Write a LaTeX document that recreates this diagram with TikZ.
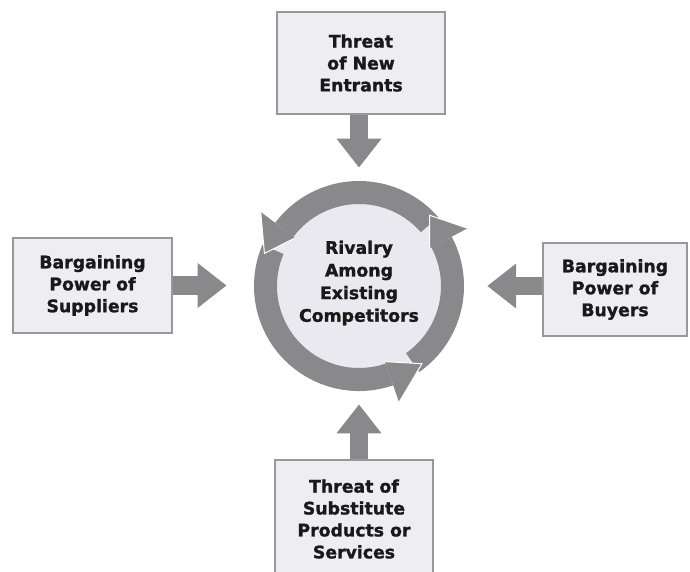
\documentclass[tikz,border=0pt]{standalone}
\usepackage{fontspec}
\usetikzlibrary{arrows.meta}
\newfontfamily\forcefont{DejaVu Sans}[BoldFeatures={FakeBold=1.3}]
\definecolor{ringgray}{RGB}{137,137,139}
\definecolor{diskfill}{RGB}{233,233,239}
\definecolor{boxfill}{RGB}{238,238,242}
\definecolor{boxedge}{RGB}{152,152,152}

\begin{document}
\begin{tikzpicture}[scale=0.25,
    force/.style={draw=boxedge, fill=boxfill, line width=1.4pt, inner sep=0pt, align=center,
      text=black!90, font=\forcefont\bfseries\fontsize{12.3}{15.6}\selectfont},
    hub/.style={circle, minimum size=148pt, inner sep=0pt},
    hubtext/.style={align=center, inner sep=0pt, text=black!90,
      font=\forcefont\bfseries\fontsize{12.3}{16.1}\selectfont},
    push/.style={draw=ringgray, line width=13.5pt, -{Triangle[length=20.6pt,width=30.6pt]}},
    ring/.style={fill=ringgray},
    cut/.style={draw=white, line width=0.7pt}]
      \useasboundingbox (0,0) rectangle (69,-57.1);
      \clip (0,0) rectangle (69,-57.1);
      \node [hub] (rivalry) at (35.9,-28.6) {};
      \node [force, minimum width=119.5pt, minimum height=72.6pt] (entrants) at (36.1,-6.3) {Threat\\of New\\Entrants};
      \node [force, minimum width=113.1pt, minimum height=67.6pt] (suppliers) at (9.25,-28.55) {Bargaining\\Power of\\Suppliers};
      \node [force, minimum width=102.4pt, minimum height=66.2pt] (buyers) at (61.5,-28.95) {Bargaining\\Power of\\Buyers};
      \node [force, minimum width=112.4pt, minimum height=84pt] (substitutes) at (35.4,-51.9) {Threat of\\Substitute\\Products or\\Services};
      \draw [push, shorten >=10pt] (entrants.south -| rivalry) -- (rivalry.north);
      \draw [push, shorten >=20pt] (suppliers.east) -- (suppliers.east -| rivalry.west);
      \draw [push, shorten >=17pt] (buyers.west |- rivalry) -- (rivalry.east);
      \draw [push, shorten >=10pt] (substitutes.north -| rivalry) -- (rivalry.south);
      \begin{scope}[shift={(rivalry.center)}]
      \fill [diskfill] (0,0) circle (9.2);
      \fill [ring] (41:8.2) arc [start angle=41, end angle=143, radius=8.2] -- (143:10.5) arc [start angle=143, end angle=41, radius=10.5] -- cycle;
      \fill [ring] (157:8.2) arc [start angle=157, end angle=289, radius=8.2] -- (289:10.5) arc [start angle=289, end angle=157, radius=10.5] -- cycle;
      \fill [ring] (305:8.2) arc [start angle=305, end angle=388, radius=8.2] -- (388:10.5) arc [start angle=388, end angle=305, radius=10.5] -- cycle;
      \fill [ring] (143:8.0) -- (161:10.0) -- (143:12.3) -- cycle;
      \draw [cut] (143:8.0) -- (161:10.0) -- (143:12.3);
      \fill [ring] (289:8.0) -- (309:10.0) -- (289:12.3) -- cycle;
      \draw [cut] (289:8.0) -- (309:10.0) -- (289:12.3);
      \fill [ring] (28:8.0) -- (45:10.0) -- (28:12.3) -- cycle;
      \draw [cut] (28:8.0) -- (45:10.0) -- (28:12.3);
      \end{scope}
      \node [hubtext] (rivalrytext) at ([yshift=8.5pt]rivalry.center) {Rivalry\\Among\\Existing\\Competitors};
\end{tikzpicture}
\end{document}
